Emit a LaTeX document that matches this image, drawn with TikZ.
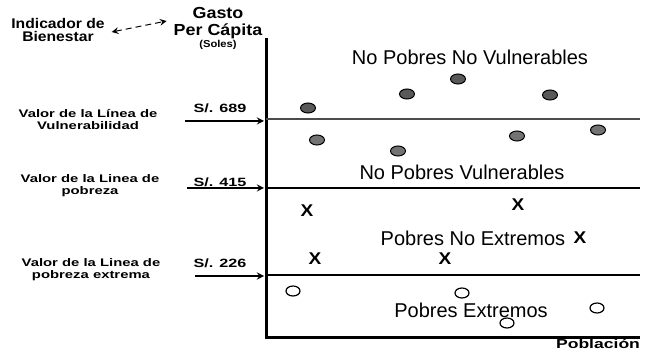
\documentclass[tikz,border=0pt]{standalone}
\usepackage{fontspec}
\setmainfont{Liberation Sans}
\newfontfamily\widesf[FakeStretch=1.35]{Liberation Sans}
\newfontfamily\midsf[FakeStretch=1.12]{Liberation Sans}
\usetikzlibrary{shapes.geometric,positioning}

\begin{document}
\begin{tikzpicture}[x=0.5pt,y=-0.5pt,
    linelbl/.style={align=center,font=\widesf\bfseries\fontsize{5.5}{6}\selectfont},
    amount/.style={font=\widesf\bfseries\fontsize{6}{7}\selectfont},
    region/.style={font=\fontsize{10}{12}\selectfont},
    toplbl/.style={align=center,font=\midsf\bfseries\fontsize{7}{6.5}\selectfont},
    fulldot/.style={ellipse,draw=black,fill=black!65,line width=0.5pt,minimum width=7.5pt,minimum height=5pt,inner sep=0pt},
    emptydot/.style={ellipse,draw=black,fill=white,line width=0.6pt,minimum width=7pt,minimum height=5pt,inner sep=0pt},
    cross/.style={font=\midsf\bfseries\fontsize{8.5}{8.5}\selectfont,inner sep=0pt},
    axis/.style={line width=1.5pt},
    level/.style={line width=1pt},
    pointer/.style={-stealth,line width=0.6pt,shorten >=1pt}]
    \useasboundingbox (0,0) rectangle (648,352);

    \node[toplbl] (bien) at (58,30) {Indicador de\\Bienestar};
    \node[toplbl,font=\midsf\bfseries\fontsize{8}{8.5}\selectfont] (gasto) at (218,23) {Gasto\\Per Cápita};
    \node[font=\midsf\bfseries\fontsize{5}{5}\selectfont] (soles) at (218,45) {(Soles)};
    \draw[<->,>=stealth,densely dashed,line width=0.5pt] ([yshift=-1pt]bien.east) -- ([yshift=1pt]gasto.west);

    \coordinate (top) at (266,38);
    \coordinate (orig) at (266,338);
    \coordinate (end) at (640,338);
    \coordinate (v0) at (266,119);
    \coordinate (v1) at (640,119);
    \coordinate (p0) at (266,188);
    \coordinate (p1) at (640,188);
    \coordinate (e0) at (266,275);
    \coordinate (e1) at (640,275);
    \draw[axis] (top) -- (orig) -- (end);
    \draw[level,black!70] (v0) -- (v1);
    \draw[level] (p0) -- (p1);
    \draw[level] (e0) -- (e1);

    \node[linelbl] (lvul) at (88,120) {Valor de la Línea de\\Vulnerabilidad};
    \node[linelbl] (lpob) at (90,186) {Valor de la Linea de\\pobreza};
    \node[linelbl] (lext) at (91,270) {Valor de la  Linea de\\pobreza extrema};

    \node[amount] (s689) at (220,108) {S/. 689};
    \node[amount] (s415) at (220,182) {S/. 415};
    \node[amount] (s226) at (220,263) {S/. 226};
    \coordinate (a689) at (185,121);
    \coordinate (a415) at (187,188);
    \coordinate (a226) at (195,276);
    \draw[pointer] (a689) -- (a689 -| v0);
    \draw[pointer] (a415) -- (a415 -| p0);
    \draw[pointer] (a226) -- (a226 -| e0);

    \node[region] (npnv) at (470,57) {No Pobres No Vulnerables};
    \node[region] (npv) at (462,172) {No Pobres Vulnerables};
    \node[region] (pne) at (473,238) {Pobres No Extremos};
    \node[region] (pe) at (471,310) {Pobres Extremos};
    \node[font=\widesf\bfseries\fontsize{6.5}{7}\selectfont] (pobl) at (598,344) {Población};

    \foreach \px/\py in {308/108,407/94,458/79,550/95}
        \node[fulldot] at (\px,\py) {};
    \foreach \px/\py in {317/140,398/151,517/136,598/130}
        \node[fulldot,fill=black!55] at (\px,\py) {};
    \foreach \px/\py in {307/211,518/205,315/259,445/259,580/238}
        \node[cross] at (\px,\py) {X};
    \foreach \px/\py in {293/291,462/293,597/308,507/323}
        \node[emptydot] at (\px,\py) {};
\end{tikzpicture}
\end{document}
